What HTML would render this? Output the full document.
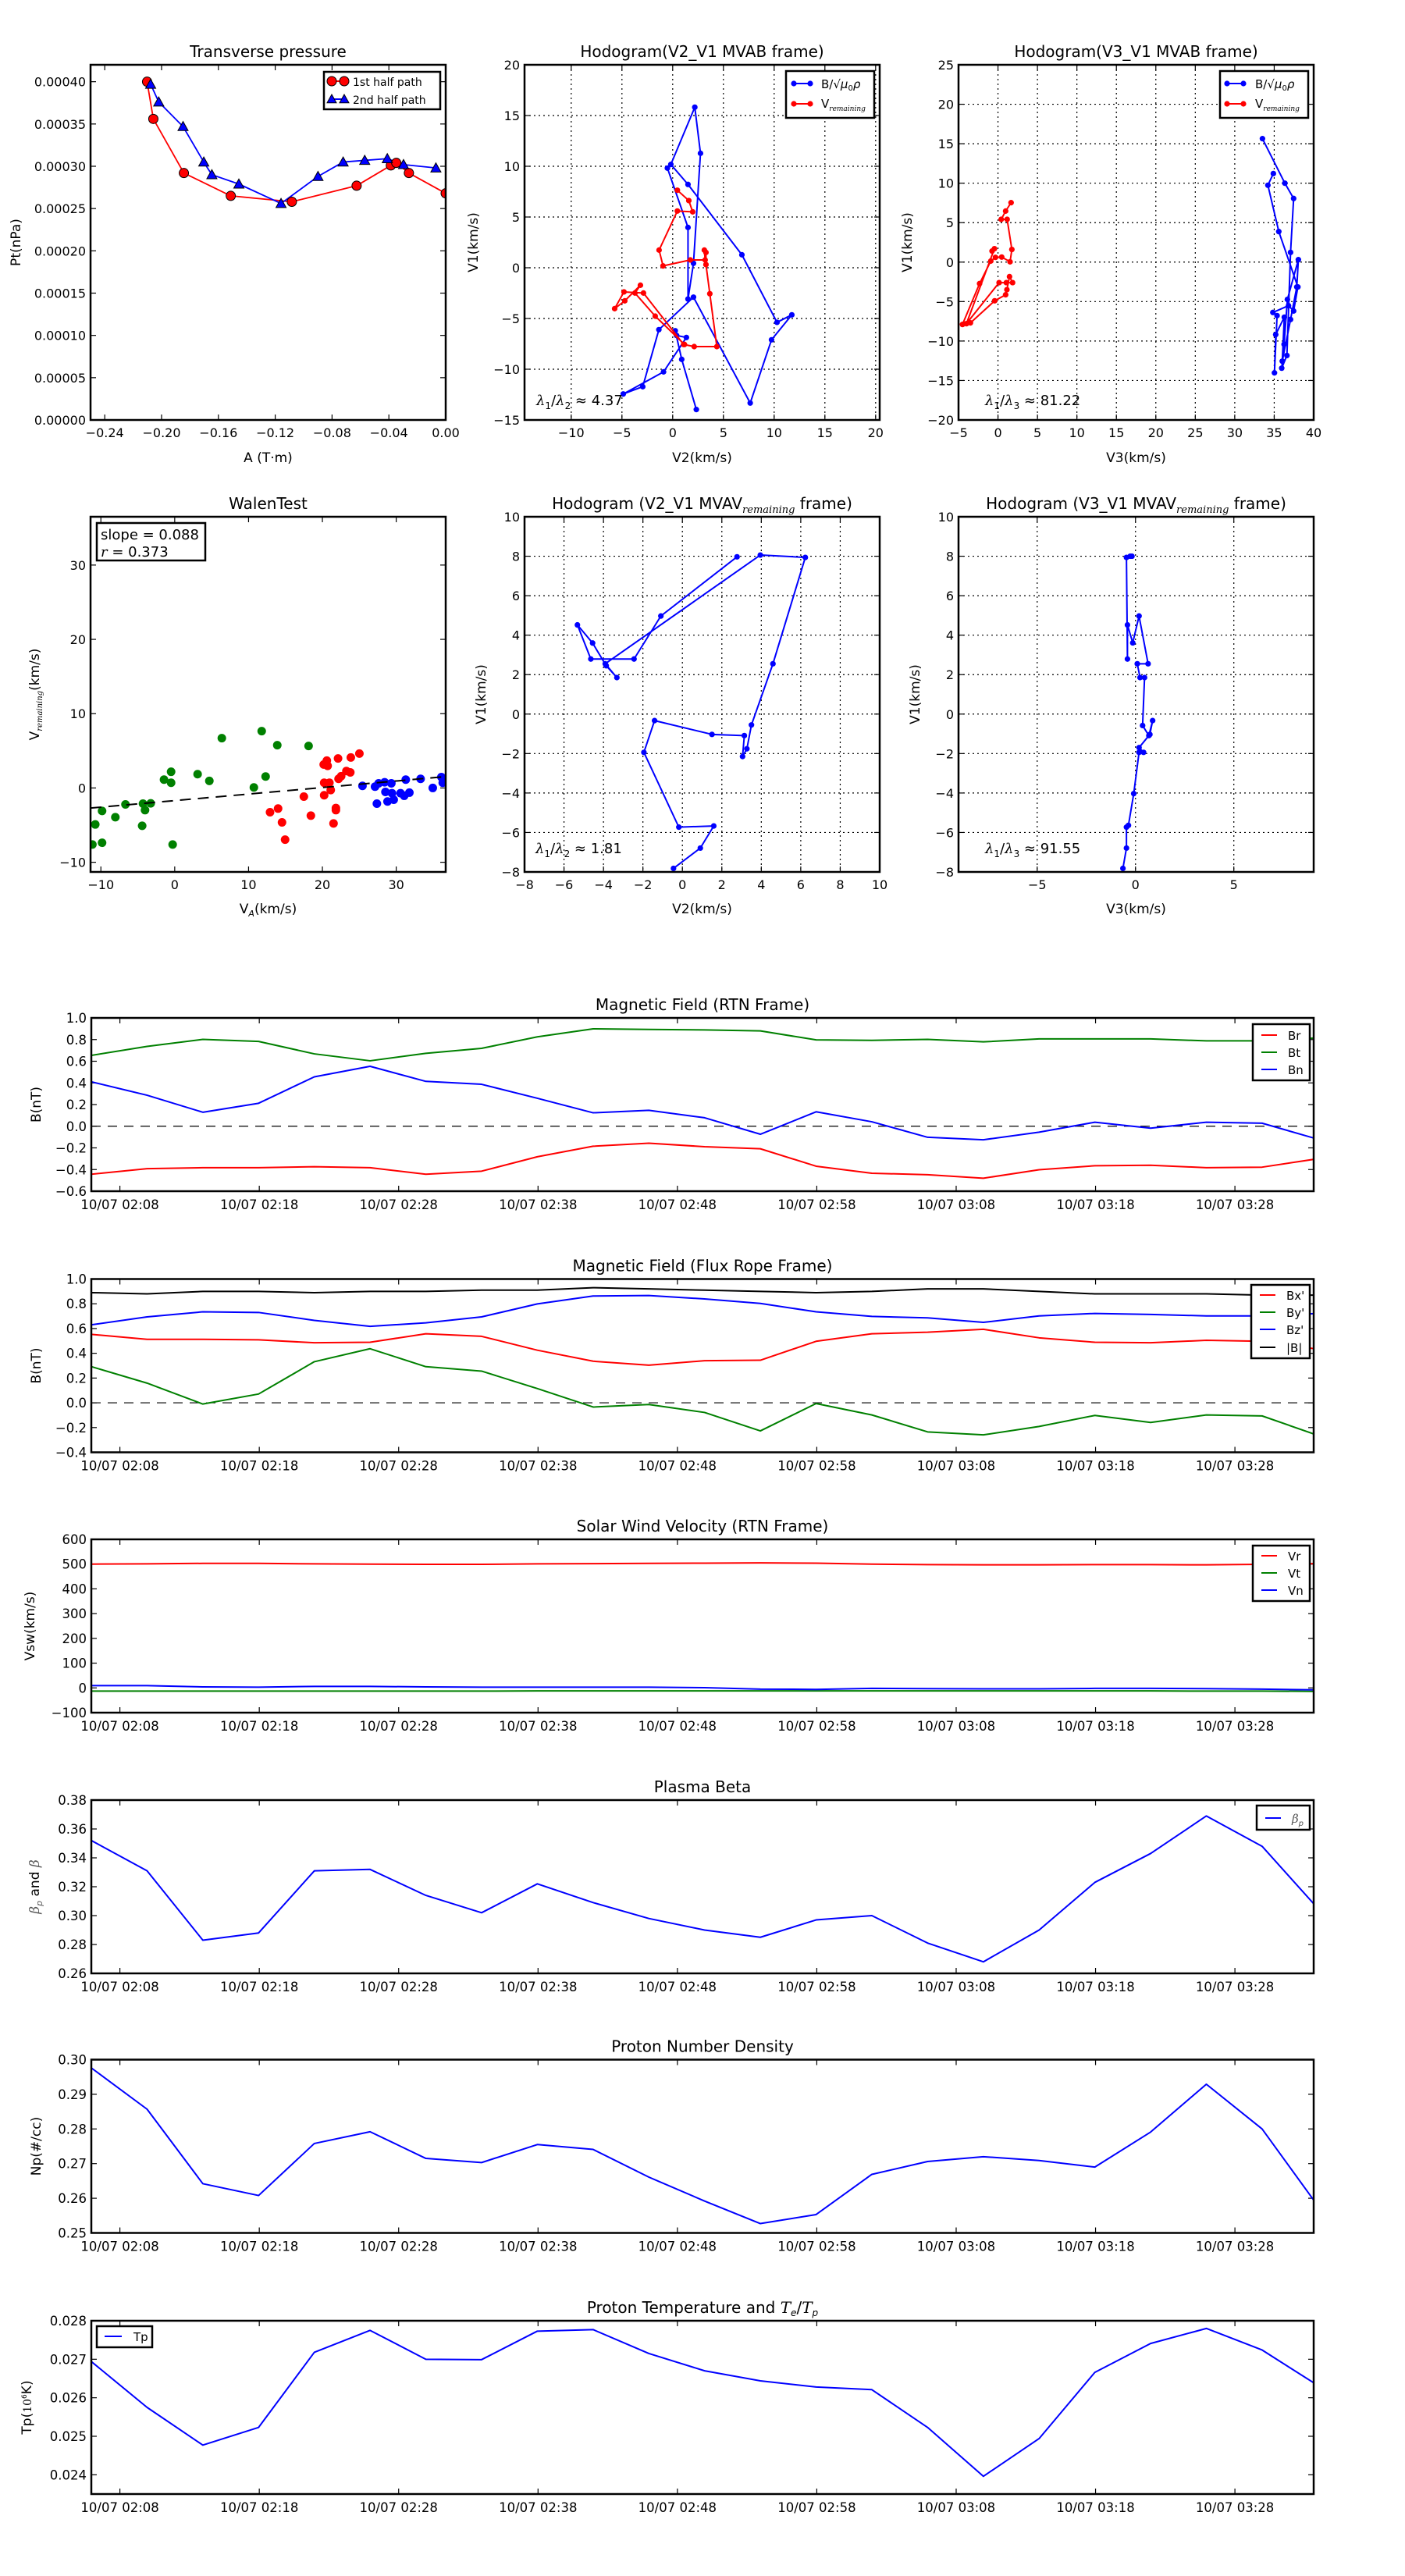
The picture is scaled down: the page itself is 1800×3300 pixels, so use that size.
<!DOCTYPE html>
<html><head><meta charset="utf-8">
<style>
html,body{margin:0;padding:0;background:#fff;}
svg{display:block;font-family:"DejaVu Sans","Liberation Sans",sans-serif;}
</style></head>
<body>
<svg id="fig" width="1800" height="3300" viewBox="0 0 1800 3300" xmlns="http://www.w3.org/2000/svg"></svg>
<script>
// ---------- DATA ----------
// Transverse pressure
const ptRedA=[-0.2102,-0.2058,-0.1843,-0.1513,-0.1083,-0.0627,-0.0386,-0.0348,-0.0259,0.0];
const ptRedP=[0.000400,0.000356,0.000292,0.000265,0.000258,0.000277,0.000301,0.000304,0.000292,0.000268];
const ptBlueA=[-0.2077,-0.2020,-0.1849,-0.1703,-0.1646,-0.1456,-0.1159,-0.0899,-0.0722,-0.0570,-0.0411,-0.0297,-0.0069];
const ptBlueP=[0.000397,0.000376,0.000347,0.000305,0.000290,0.000279,0.000256,0.000288,0.000305,0.000307,0.000309,0.000302,0.000298];
const ptXTicks=[-0.24,-0.20,-0.16,-0.12,-0.08,-0.04,0.00];
const ptXLabels=["−0.24","−0.20","−0.16","−0.12","−0.08","−0.04","0.00"];
const ptYTicks=[0,0.00005,0.0001,0.00015,0.0002,0.00025,0.0003,0.00035,0.0004];
const ptYLabels=["0.00000","0.00005","0.00010","0.00015","0.00020","0.00025","0.00030","0.00035","0.00040"];
// Hodogram V2-V1 MVAB
const h2BlueX=[2.33,0.89,0.25,0.38,1.35,-0.90,-4.87,-2.95,-1.36,2.05,7.64,9.74,11.74,10.28,6.82,1.51,-0.18,2.18,2.74,2.05,1.51,1.51,-0.52];
const h2BlueY=[-13.97,-9.03,-6.21,-6.67,-6.87,-10.26,-12.44,-11.72,-6.10,-2.90,-13.33,-7.10,-4.64,-5.38,1.28,8.21,10.18,15.82,11.28,0.44,-3.08,3.97,9.82];
const h2RedX=[0.46,1.59,1.97,0.46,-1.34,-0.95,1.74,3.20,3.12,3.28,3.28,3.66,4.35,2.12,1.08,-2.88,-4.80,-5.72,-4.72,-3.18,-3.72,-1.72,1.16];
const h2RedY=[7.64,6.62,5.51,5.59,1.74,0.18,0.77,0.77,1.74,1.51,0.31,-2.56,-7.77,-7.77,-7.56,-2.49,-2.38,-4.03,-3.26,-1.72,-2.49,-4.77,-7.56];
const h2XTicks=[-10,-5,0,5,10,15,20];
const h2XLabels=["−10","−5","0","5","10","15","20"];
const h2YTicks=[-15,-10,-5,0,5,10,15,20];
const h2YLabels=["−15","−10","−5","0","5","10","15","20"];
// Hodogram V3-V1 MVAB
const h3BlueX=[33.51,36.35,37.46,37.07,36.61,35.95,36.25,36.67,38.06,37.86,37.07,36.02,36.28,35.19,35.03,35.36,34.83,36.81,37.46,38.0,35.58,34.2,34.89];
const h3BlueY=[15.64,10.0,8.06,1.23,-11.83,-13.44,-10.41,-4.73,0.31,-3.15,-7.27,-12.55,-6.98,-9.18,-14.03,-6.78,-6.38,-5.52,-6.19,-3.15,3.87,9.74,11.22];
const h3RedX=[1.66,0.97,0.41,1.16,1.76,1.53,0.47,-0.32,-0.91,-2.33,-4.5,-3.49,-0.42,0.97,1.13,1.46,1.85,1.06,0.14,-4.0,-0.45,-0.75];
const h3RedY=[7.53,6.47,5.42,5.42,1.6,0.04,0.64,0.6,0.14,-2.72,-7.9,-7.7,-4.9,-4.14,-3.49,-1.84,-2.6,-2.6,-2.6,-7.8,1.7,1.4];
const h3XTicks=[-5,0,5,10,15,20,25,30,35,40];
const h3XLabels=["−5","0","5","10","15","20","25","30","35","40"];
const h3YTicks=[-20,-15,-10,-5,0,5,10,15,20,25];
const h3YLabels=["−20","−15","−10","−5","0","5","10","15","20","25"];
// Walen test
const walGreenX=[-11.15,-10.76,-9.84,-9.84,-8.04,-6.67,-4.41,-4.30,-4.02,-3.25,-1.45,-0.49,-0.49,-0.28,3.10,4.69,6.38,10.72,11.78,12.31,13.89,18.13];
const walGreenY=[-7.61,-4.91,-3.09,-7.37,-3.93,-2.21,-5.09,-2.11,-2.98,-2.07,1.12,2.18,0.70,-7.61,1.86,0.95,6.70,0.07,7.65,1.54,5.76,5.65];
const walRedX=[12.91,14.0,14.53,14.95,17.49,18.44,20.24,20.18,20.6,20.71,20.24,20.95,21.13,21.51,21.83,21.83,22.19,22.54,22.12,23.25,23.78,23.85,25.01];
const walRedY=[-3.26,-2.77,-4.63,-6.95,-1.16,-3.72,-0.98,3.16,3.68,2.98,0.70,0.70,-0.28,-4.77,-2.70,-2.98,1.23,1.58,3.97,2.28,2.1,4.1,4.63];
const walBlueX=[25.43,27.13,27.62,28.43,29.34,28.54,27.38,28.82,29.42,29.66,30.58,31.08,31.78,31.29,33.30,34.95,36.12,36.3];
const walBlueY=[0.28,0.18,0.63,0.77,0.63,-0.53,-2.11,-1.82,-0.70,-1.58,-0.70,-1.05,-0.63,1.12,1.23,0.0,1.47,0.70];
const walSlope=[0.088];
const walIntercept=[-1.7];
const walXTicks=[-10,0,10,20,30];
const walXLabels=["−10","0","10","20","30"];
const walYTicks=[-10,0,10,20,30];
const walYLabels=["−10","0","10","20","30"];
// Hodogram V2-V1 MVAV
const m2X=[-0.45,0.91,1.59,-0.18,-1.95,-1.41,1.5,3.14,3.05,3.27,3.5,4.59,6.23,3.95,-3.91,-3.32,-3.86,-4.55,-5.32,-4.64,-2.45,-1.09,2.77];
const m2Y=[-7.82,-6.79,-5.67,-5.73,-1.94,-0.33,-1.03,-1.09,-2.15,-1.76,-0.55,2.55,7.94,8.06,2.55,1.85,2.45,3.6,4.52,2.79,2.79,4.97,7.97];
const m2XTicks=[-8,-6,-4,-2,0,2,4,6,8,10];
const m2XLabels=["−8","−6","−4","−2","0","2","4","6","8","10"];
const mYTicks=[-8,-6,-4,-2,0,2,4,6,8,10];
const mYLabels=["−8","−6","−4","−2","0","2","4","6","8","10"];
// Hodogram V3-V1 MVAV
const m3X=[-0.64,-0.46,-0.46,-0.36,-0.09,0.18,0.41,0.18,0.73,0.87,0.68,0.36,0.46,0.23,0.09,0.64,0.18,-0.14,-0.41,-0.41,-0.46,-0.27,-0.18];
const m3Y=[-7.82,-6.79,-5.73,-5.64,-4.03,-1.94,-1.94,-1.70,-1.03,-0.33,-1.09,-0.58,1.85,1.85,2.55,2.55,4.97,3.61,4.52,2.79,7.94,8.0,8.0];
const m3XTicks=[-5,0,5];
const m3XLabels=["−5","0","5"];
// Time series (minutes from 02:05:57, one sample every 4 min)
const tMin=[0,4,8,12,16,20,24,28,32,36,40,44,48,52,56,60,64,68,72,76,80,84,88];
const timeTicks=[2.05,12.05,22.05,32.05,42.05,52.05,62.05,72.05,82.05];
const timeLabels=["10/07 02:08","10/07 02:18","10/07 02:28","10/07 02:38","10/07 02:48","10/07 02:58","10/07 03:08","10/07 03:18","10/07 03:28"];
const Br=[-0.443,-0.392,-0.383,-0.383,-0.374,-0.383,-0.443,-0.415,-0.282,-0.185,-0.157,-0.189,-0.208,-0.369,-0.434,-0.448,-0.480,-0.402,-0.365,-0.360,-0.383,-0.378,-0.300];
const Bt=[0.654,0.737,0.802,0.783,0.668,0.604,0.673,0.719,0.825,0.899,0.894,0.889,0.880,0.797,0.793,0.802,0.779,0.806,0.806,0.806,0.788,0.788,0.816];
const Bn=[0.410,0.286,0.129,0.212,0.456,0.553,0.414,0.387,0.258,0.124,0.147,0.078,-0.074,0.133,0.041,-0.102,-0.125,-0.055,0.037,-0.018,0.037,0.028,-0.120];
const Bx1=[0.553,0.513,0.513,0.509,0.485,0.489,0.558,0.537,0.425,0.336,0.304,0.340,0.344,0.497,0.558,0.570,0.594,0.525,0.489,0.485,0.505,0.497,0.433];
const By1=[0.292,0.159,-0.010,0.071,0.332,0.437,0.292,0.256,0.115,-0.034,-0.014,-0.078,-0.227,-0.006,-0.098,-0.235,-0.259,-0.191,-0.102,-0.159,-0.098,-0.106,-0.263];
const Bz1=[0.630,0.694,0.735,0.730,0.666,0.618,0.646,0.694,0.799,0.863,0.867,0.839,0.803,0.735,0.698,0.686,0.650,0.702,0.722,0.714,0.702,0.702,0.722];
const Bmag=[0.89,0.88,0.90,0.90,0.89,0.90,0.90,0.91,0.91,0.93,0.92,0.91,0.90,0.89,0.90,0.92,0.92,0.90,0.88,0.88,0.88,0.87,0.87];
const Vr=[500,501,503,503,501,500,499,499,501,502,503,504,505,504,500,498,497,497,498,498,497,499,502];
const Vt=[-13,-13,-13,-13,-13,-13,-13,-13,-12,-12,-12,-12,-12,-12,-12,-12,-12,-12,-12,-12,-13,-13,-14];
const Vn=[9,9,4,3,6,6,4,3,3,3,3,1,-5,-6,-2,-3,-4,-4,-2,-2,-3,-5,-8];
const betaP=[0.352,0.331,0.283,0.288,0.331,0.332,0.314,0.302,0.322,0.309,0.298,0.290,0.285,0.297,0.300,0.281,0.268,0.290,0.323,0.343,0.369,0.348,0.305];
const Np=[0.2976,0.2857,0.2642,0.2608,0.2758,0.2792,0.2715,0.2703,0.2755,0.2741,0.2661,0.2592,0.2527,0.2553,0.2669,0.2706,0.2720,0.2709,0.2690,0.2791,0.2929,0.2800,0.2578];
const Tp=[0.02694,0.02575,0.02477,0.02523,0.02718,0.02775,0.02700,0.02699,0.02773,0.02777,0.02715,0.02670,0.02644,0.02628,0.02621,0.02523,0.02396,0.02494,0.02666,0.02741,0.02780,0.02724,0.02632];
const b4Ticks=[-0.6,-0.4,-0.2,0,0.2,0.4,0.6,0.8,1.0];
const b4Labels=["−0.6","−0.4","−0.2","0.0","0.2","0.4","0.6","0.8","1.0"];
const b5Ticks=[-0.4,-0.2,0,0.2,0.4,0.6,0.8,1.0];
const b5Labels=["−0.4","−0.2","0.0","0.2","0.4","0.6","0.8","1.0"];
const vTicks=[-100,0,100,200,300,400,500,600];
const vLabels=["−100","0","100","200","300","400","500","600"];
const betaTicks=[0.26,0.28,0.30,0.32,0.34,0.36,0.38];
const betaLabels=["0.26","0.28","0.30","0.32","0.34","0.36","0.38"];
const npTicks=[0.25,0.26,0.27,0.28,0.29,0.30];
const npLabels=["0.25","0.26","0.27","0.28","0.29","0.30"];
const tpTicks=[0.024,0.025,0.026,0.027,0.028];
const tpLabels=["0.024","0.025","0.026","0.027","0.028"];

// ---------- DRAWING ----------
const NS='http://www.w3.org/2000/svg';
const svg=document.getElementById('fig');
const BLUE='#0000ff',RED='#ff0000',GREEN='#008000';
let clipId=0;
function mk(tag,parent){const e=document.createElementNS(NS,tag);(parent||svg).appendChild(e);return e;}
function txt(parent,x,y,s,size,anchor){const t=mk('text',parent);t.setAttribute('x',x);t.setAttribute('y',y);t.setAttribute('font-size',size);t.setAttribute('text-anchor',anchor||'middle');t.textContent=s;return t;}
function span(t,s,opts){const ts=mk('tspan',t);ts.textContent=s;if(opts){for(const k in opts)ts.setAttribute(k,opts[k]);}return ts;}

function axes(o){
  const g=mk('g');
  
  
  const sx=v=>o.x+(v-o.xmin)/(o.xmax-o.xmin)*o.w;
  const sy=v=>o.y+o.h-(v-o.ymin)/(o.ymax-o.ymin)*o.h;
  const fs=o.fs||16.5;
  if(o.grid){
    o.xt.forEach(v=>{const l=mk('line',g);l.setAttribute('x1',sx(v));l.setAttribute('x2',sx(v));l.setAttribute('y1',o.y);l.setAttribute('y2',o.y+o.h);l.setAttribute('stroke','#000');l.setAttribute('stroke-width',1.2);l.setAttribute('stroke-dasharray','2,4');
      
      });
    o.yt.forEach(v=>{const l=mk('line',g);l.setAttribute('x1',o.x);l.setAttribute('x2',o.x+o.w);l.setAttribute('y1',sy(v));l.setAttribute('y2',sy(v));l.setAttribute('stroke','#000');l.setAttribute('stroke-width',1.2);l.setAttribute('stroke-dasharray','2,4');
      
      });
  }
  const tl=7;
  o.xt.forEach((v,i)=>{
    const X=sx(v);
    [[o.y+o.h,-tl],[o.y,tl]].forEach(([yy,d])=>{const l=mk('line',g);l.setAttribute('x1',X);l.setAttribute('x2',X);l.setAttribute('y1',yy);l.setAttribute('y2',yy+d);l.setAttribute('stroke','#000');l.setAttribute('stroke-width',1.2);});
    const t=txt(g,X,o.y+o.h+(o.xlOff||23),o.xl[i],fs);
    
    
  });
  o.yt.forEach((v,i)=>{
    const Y=sy(v);
    [[o.x,tl],[o.x+o.w,-tl]].forEach(([xx,d])=>{const l=mk('line',g);l.setAttribute('x1',xx);l.setAttribute('x2',xx+d);l.setAttribute('y1',Y);l.setAttribute('y2',Y);l.setAttribute('stroke','#000');l.setAttribute('stroke-width',1.2);});
    const t=txt(g,o.x-6,Y+6,o.yl[i],fs,'end');
    
    
  });
  const cp=mk('clipPath',g);const cid='c'+(clipId++);cp.setAttribute('id',cid);
  const cr=mk('rect',cp);cr.setAttribute('x',o.x);cr.setAttribute('y',o.y);cr.setAttribute('width',o.w);cr.setAttribute('height',o.h);
  const data=mk('g',g);data.setAttribute('clip-path','url(#'+cid+')');
  
  
  const fr=mk('rect',g);fr.setAttribute('x',o.x);fr.setAttribute('y',o.y);fr.setAttribute('width',o.w);fr.setAttribute('height',o.h);fr.setAttribute('fill','none');fr.setAttribute('stroke','#000');fr.setAttribute('stroke-width',2.5);
  
  
  return {g,data,sx,sy,o};
}
function title(a,build){const t=txt(a.g,a.o.x+a.o.w/2,a.o.y-10,'',20);build(t);
  
  return t;}
function xlabel(a,y,build){const t=txt(a.g,a.o.x+a.o.w/2,y,'',17);build(t);
  
  }
function ylabel(a,x,build){const cy=a.o.y+a.o.h/2;const t=txt(a.g,x,cy,'',17);t.setAttribute('transform','rotate(-90 '+x+' '+cy+')');build(t);
  
  }
function line(a,xs,ys,color,name,w){
  const p=mk('polyline',a.data);p.setAttribute('points',xs.map((x,i)=>a.sx(x)+','+a.sy(ys[i])).join(' '));
  p.setAttribute('fill','none');p.setAttribute('stroke',color);p.setAttribute('stroke-width',w||2);p.setAttribute('stroke-linejoin','round');
  
  
  return p;}
function dots(a,xs,ys,color,r,name,edge){
  xs.forEach((x,i)=>{const c=mk('circle',a.data);c.setAttribute('cx',a.sx(x));c.setAttribute('cy',a.sy(ys[i]));c.setAttribute('r',r);c.setAttribute('fill',color);if(edge){c.setAttribute('stroke','#000');c.setAttribute('stroke-width',1);}
    
    });}
function tris(a,xs,ys,color,s,name){
  xs.forEach((x,i)=>{const X=a.sx(x),Y=a.sy(ys[i]);const p=mk('polygon',a.data);p.setAttribute('points',X+','+(Y-s)+' '+(X-s)+','+(Y+s*0.8)+' '+(X+s)+','+(Y+s*0.8));p.setAttribute('fill',color);p.setAttribute('stroke','#000');p.setAttribute('stroke-width',1);
    
    });}
function hline(a,v){const l=mk('line',a.data);l.setAttribute('x1',a.o.x);l.setAttribute('x2',a.o.x+a.o.w);l.setAttribute('y1',a.sy(v));l.setAttribute('y2',a.sy(v));l.setAttribute('stroke','#000');l.setAttribute('stroke-width',1.2);l.setAttribute('stroke-dasharray','12,9');
  
  }
function legendBox(parent,x,y,w,h){const g=mk('g',parent);
  
  
  const r=mk('rect',g);r.setAttribute('x',x);r.setAttribute('y',y);r.setAttribute('width',w);r.setAttribute('height',h);r.setAttribute('fill','#fff');r.setAttribute('stroke','#000');r.setAttribute('stroke-width',2.5);return g;}
function legLine(g,x1,x2,y,color,markers,tri){const l=mk('line',g);l.setAttribute('x1',x1);l.setAttribute('x2',x2);l.setAttribute('y1',y);l.setAttribute('y2',y);l.setAttribute('stroke',color);l.setAttribute('stroke-width',2);
  
  
  if(markers){[x1,x2].forEach(x=>{if(tri){const p=mk('polygon',g);p.setAttribute('points',x+','+(y-markers)+' '+(x-markers)+','+(y+markers*0.8)+' '+(x+markers)+','+(y+markers*0.8));p.setAttribute('fill',color);p.setAttribute('stroke','#000');}else{const c=mk('circle',g);c.setAttribute('cx',x);c.setAttribute('cy',y);c.setAttribute('r',markers);c.setAttribute('fill',color);if(markers>4)c.setAttribute('stroke','#000');}});}}
function subTitle(t,pre,sub,post){span(t,pre);span(t,sub,{'font-family':'DejaVu Serif, Liberation Serif, serif','font-style':'italic','font-size':13,'dy':5});span(t,post,{'dy':-5});}
function vrem(t,size){span(t,'V');span(t,'remaining',{'font-family':'DejaVu Serif, Liberation Serif, serif','font-style':'italic','font-size':size,'dy':4});}
function bmu(t){span(t,'B/√');span(t,'μ',{'font-style':'italic'});span(t,'0',{'font-size':10,'dy':3});span(t,'ρ',{'font-style':'italic','dy':-3});}
function lam(parent,x,y,sub,val){const t=txt(parent,x,y,'',18,'start');
  
  
  span(t,'λ',{'font-style':'italic','font-family':'DejaVu Serif, serif'});span(t,'1',{'font-size':12,'dy':5});span(t,'/',{'dy':-5});span(t,'λ',{'font-style':'italic','font-family':'DejaVu Serif, serif'});span(t,sub,{'font-size':12,'dy':5});span(t,' ≈ '+val,{'dy':-5});}

// ---- Row 1 ----
const R1Y=83,R1H=455,R2Y=662,C1=116,C2=672,C3=1228,CW=455;
let a=axes({name:'transverse-pressure-chart',x:C1,y:R1Y,w:CW,h:R1H,xmin:-0.25,xmax:0,ymin:0,ymax:0.00042,xt:ptXTicks,xl:ptXLabels,yt:ptYTicks,yl:ptYLabels,xlOff:22,fs:16});
title(a,t=>t.textContent='Transverse pressure');
xlabel(a,592,t=>t.textContent='A (T·m)');
ylabel(a,26,t=>t.textContent='Pt(nPa)');
line(a,ptRedA,ptRedP,RED,'first-half-path-line',1.8);
line(a,ptBlueA,ptBlueP,BLUE,'second-half-path-line',1.8);
dots(a,ptRedA,ptRedP,RED,6,'first-half-marker',true);
tris(a,ptBlueA,ptBlueP,BLUE,6.5,'second-half-marker');
{const g=legendBox(a.g,415,92,149,48);legLine(g,425,441,104,RED,6);legLine(g,425,441,127,BLUE,6,true);
 txt(g,452,110,'1st half path',14,'start');txt(g,452,133,'2nd half path',14,'start');}

a=axes({name:'hodogram-v2-v1-mvab',x:C2,y:R1Y,w:CW,h:R1H,xmin:-14.6,xmax:20.4,ymin:-15,ymax:20,xt:h2XTicks,xl:h2XLabels,yt:h2YTicks,yl:h2YLabels,grid:true,xlOff:22,fs:16});
title(a,t=>t.textContent='Hodogram(V2_V1 MVAB frame)');
xlabel(a,592,t=>t.textContent='V2(km/s)');
ylabel(a,612,t=>t.textContent='V1(km/s)');
line(a,h2BlueX,h2BlueY,BLUE,'b-alfven-hodogram-line');dots(a,h2BlueX,h2BlueY,BLUE,3.6,'b-alfven-point');
line(a,h2RedX,h2RedY,RED,'v-remaining-hodogram-line');dots(a,h2RedX,h2RedY,RED,3.6,'v-remaining-point');
lam(a.g,687,519,'2','4.37');
{const g=legendBox(a.g,1007,91,113,60);legLine(g,1017,1038,107,BLUE,3.6);legLine(g,1017,1038,133,RED,3.6);
 const t1=txt(g,1052,113,'',15,'start');bmu(t1);const t2=txt(g,1052,138,'',15,'start');vrem(t2,9);}

a=axes({name:'hodogram-v3-v1-mvab',x:C3,y:R1Y,w:CW,h:R1H,xmin:-5,xmax:40,ymin:-20,ymax:25,xt:h3XTicks,xl:h3XLabels,yt:h3YTicks,yl:h3YLabels,grid:true,xlOff:22,fs:16});
title(a,t=>t.textContent='Hodogram(V3_V1 MVAB frame)');
xlabel(a,592,t=>t.textContent='V3(km/s)');
ylabel(a,1168,t=>t.textContent='V1(km/s)');
line(a,h3BlueX,h3BlueY,BLUE,'b-alfven-hodogram-line');dots(a,h3BlueX,h3BlueY,BLUE,3.6,'b-alfven-point');
line(a,h3RedX,h3RedY,RED,'v-remaining-hodogram-line');dots(a,h3RedX,h3RedY,RED,3.6,'v-remaining-point');
lam(a.g,1262,519,'3','81.22');
{const g=legendBox(a.g,1563,91,113,60);legLine(g,1572,1593,107,BLUE,3.6);legLine(g,1572,1593,133,RED,3.6);
 const t1=txt(g,1608,113,'',15,'start');bmu(t1);const t2=txt(g,1608,138,'',15,'start');vrem(t2,9);}

// ---- Row 2 ----
a=axes({name:'walen-test-chart',x:C1,y:R2Y,w:CW,h:R1H,xmin:-11.4,xmax:36.7,ymin:-11.3,ymax:36.5,xt:walXTicks,xl:walXLabels,yt:walYTicks,yl:walYLabels,xlOff:22,fs:16});
title(a,t=>t.textContent='WalenTest');
xlabel(a,1170,t=>{span(t,'V');span(t,'A',{'font-style':'italic','font-size':11,'dy':4});span(t,'(km/s)',{'dy':-4});});
ylabel(a,50,t=>{vrem(t,10);span(t,'(km/s)',{'dy':-4});});
dots(a,walGreenX,walGreenY,GREEN,5.5,'walen-point-green');
dots(a,walRedX,walRedY,RED,5.5,'walen-point-red');
dots(a,walBlueX,walBlueY,BLUE,5.5,'walen-point-blue');
{const fx=[a.o.xmin,a.o.xmax];const fy=fx.map(v=>walSlope[0]*v+walIntercept[0]);const p=line(a,fx,fy,'#000','walen-fit-line',2);p.setAttribute('stroke-dasharray','14,9');}
{const g=legendBox(a.g,124,670,139,48);const t1=txt(g,129,691,'slope = 0.088',18,'start');const t2=txt(g,129,713,'',18,'start');span(t2,'r',{'font-style':'italic','font-family':'DejaVu Serif, serif'});span(t2,' = 0.373');}

a=axes({name:'hodogram-v2-v1-mvav',x:C2,y:R2Y,w:CW,h:R1H,xmin:-8,xmax:10,ymin:-8,ymax:10,xt:m2XTicks,xl:m2XLabels,yt:mYTicks,yl:mYLabels,grid:true,xlOff:22,fs:16});
title(a,t=>subTitle(t,'Hodogram (V2_V1 MVAV','remaining',' frame)'));
xlabel(a,1170,t=>t.textContent='V2(km/s)');
ylabel(a,622,t=>t.textContent='V1(km/s)');
line(a,m2X,m2Y,BLUE,'mvav-hodogram-line');dots(a,m2X,m2Y,BLUE,3.6,'mvav-point');
lam(a.g,686,1093,'2','1.81');

a=axes({name:'hodogram-v3-v1-mvav',x:C3,y:R2Y,w:CW,h:R1H,xmin:-9,xmax:9.06,ymin:-8,ymax:10,xt:m3XTicks,xl:m3XLabels,yt:mYTicks,yl:mYLabels,grid:true,xlOff:22,fs:16});
title(a,t=>subTitle(t,'Hodogram (V3_V1 MVAV','remaining',' frame)'));
xlabel(a,1170,t=>t.textContent='V3(km/s)');
ylabel(a,1178,t=>t.textContent='V1(km/s)');
line(a,m3X,m3Y,BLUE,'mvav-hodogram-line');dots(a,m3X,m3Y,BLUE,3.6,'mvav-point');
lam(a.g,1262,1093,'3','91.55');

// ---- Time series ----
const TX=117,TW=1566,TMAX=87.7;
function ts(name,y,ymin,ymax,yt,yl){return axes({name,x:TX,y,w:TW,h:222,xmin:0,xmax:TMAX,ymin,ymax,xt:timeTicks,xl:timeLabels,yt,yl});}
function wideLegend(a,x,y,w,h,entries){const g=legendBox(a.g,x,y,w,h);entries.forEach(e=>{legLine(g,x+11,x+31,e[2],e[1]);const t=txt(g,x+45,e[2]+6,'',15,'start');if(typeof e[0]==='function')e[0](t);else t.textContent=e[0];});}

a=ts('magnetic-field-rtn-chart',1304,-0.6,1.0,b4Ticks,b4Labels);
title(a,t=>t.textContent='Magnetic Field (RTN Frame)');
ylabel(a,52,t=>t.textContent='B(nT)');
hline(a,0);
line(a,tMin,Br,RED,'br-line');line(a,tMin,Bt,GREEN,'bt-line');line(a,tMin,Bn,BLUE,'bn-line');
wideLegend(a,1605,1312,73,72,[['Br',RED,1326],['Bt',GREEN,1348],['Bn',BLUE,1370]]);

a=ts('magnetic-field-flux-rope-chart',1638.5,-0.4,1.0,b5Ticks,b5Labels);
title(a,t=>t.textContent='Magnetic Field (Flux Rope Frame)');
ylabel(a,52,t=>t.textContent='B(nT)');
hline(a,0);
line(a,tMin,Bx1,RED,'bx-prime-line');line(a,tMin,By1,GREEN,'by-prime-line');line(a,tMin,Bz1,BLUE,'bz-prime-line');line(a,tMin,Bmag,'#000','b-magnitude-line');
wideLegend(a,1603,1646,75,94,[["Bx'",RED,1659],["By'",GREEN,1681],["Bz'",BLUE,1703],['|B|','#000',1726]]);

a=ts('solar-wind-velocity-chart',1972,-100,600,vTicks,vLabels);
title(a,t=>t.textContent='Solar Wind Velocity (RTN Frame)');
ylabel(a,44,t=>t.textContent='Vsw(km/s)');
line(a,tMin,Vr,RED,'vr-line');line(a,tMin,Vt,GREEN,'vt-line');line(a,tMin,Vn,BLUE,'vn-line');
wideLegend(a,1605,1980,73,71,[['Vr',RED,1993],['Vt',GREEN,2015],['Vn',BLUE,2037]]);

a=ts('plasma-beta-chart',2306,0.26,0.38,betaTicks,betaLabels);
title(a,t=>t.textContent='Plasma Beta');
ylabel(a,50,t=>{t.setAttribute('fill','#555');span(t,'β',{'font-style':'italic','font-family':'DejaVu Serif, serif'});span(t,'p',{'font-style':'italic','font-size':11,'dy':4});span(t,' and ',{'dy':-4,'fill':'#000'});span(t,'β',{'font-style':'italic','font-family':'DejaVu Serif, serif'});});
line(a,tMin,betaP,BLUE,'beta-p-line');
wideLegend(a,1610,2313,68,31,[[t=>{span(t,'β',{'font-style':'italic','font-family':'DejaVu Serif, serif','fill':'#555'});span(t,'p',{'font-style':'italic','font-size':10,'dy':4,'fill':'#555'});},BLUE,2329]]);

a=ts('proton-density-chart',2638.5,0.25,0.30,npTicks,npLabels);
title(a,t=>t.textContent='Proton Number Density');
ylabel(a,52,t=>t.textContent='Np(#/cc)');
line(a,tMin,Np,BLUE,'np-line');

a=ts('proton-temperature-chart',2973,0.0235,0.028,tpTicks,tpLabels);
title(a,t=>{span(t,'Proton Temperature and ');span(t,'T',{'font-style':'italic','font-family':'DejaVu Serif, serif'});span(t,'e',{'font-style':'italic','font-size':12,'dy':4});span(t,'/',{'dy':-4});span(t,'T',{'font-style':'italic','font-family':'DejaVu Serif, serif'});span(t,'p',{'font-style':'italic','font-size':12,'dy':4});});
ylabel(a,40,t=>{span(t,'Tp(');span(t,'10',{'font-family':'DejaVu Serif, serif','font-size':14});span(t,'6',{'font-size':9,'dy':-6});span(t,'K)',{'dy':6});});
line(a,tMin,Tp,BLUE,'tp-line');
{const g=legendBox(a.g,124,2980,71,27);legLine(g,134,156,2993,BLUE);txt(g,171,2999,'Tp',15,'start');}
</script>
</body></html>
